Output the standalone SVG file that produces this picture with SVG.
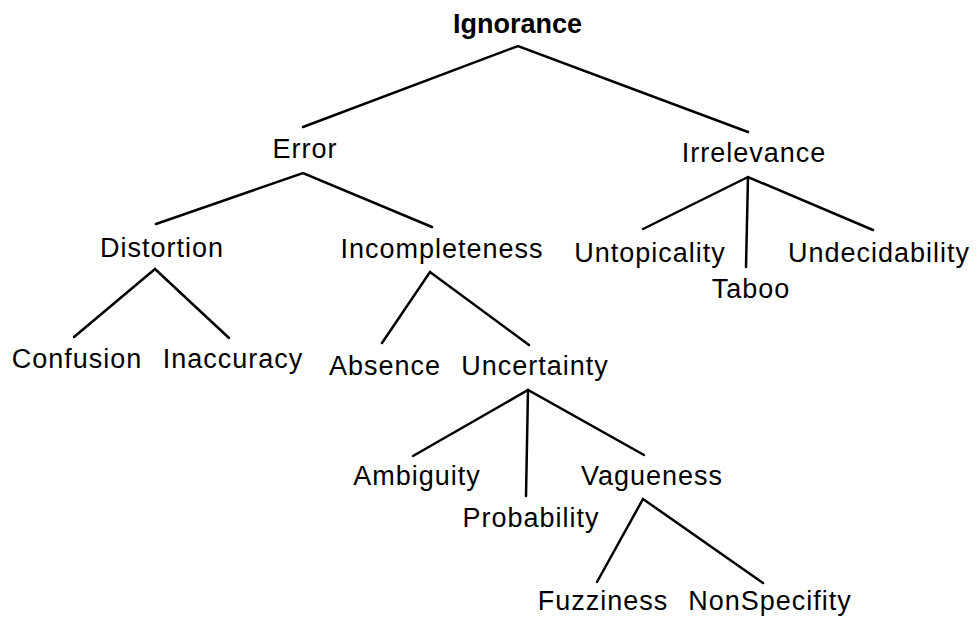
<svg xmlns="http://www.w3.org/2000/svg" width="978" height="621" viewBox="0 0 978 621">
<style>
  text { font-family: "Liberation Sans", Arial, sans-serif; font-size: 27px; fill: #000; text-anchor: middle; letter-spacing: 1px; }
  .root { font-weight: bold; letter-spacing: 0px; }
  .edge { stroke: #000; stroke-width: 2.5; fill: none; stroke-linecap: round; stroke-linejoin: miter; }
</style>
<rect x="0" y="0" width="978" height="621" fill="#fff"/>
<g id="connectors">
  <polyline class="edge" points="303,127 518,46 748,132"/>
  <polyline class="edge" points="156,224 303,173 432,227"/>
  <polyline class="edge" points="643,229 748,177 873,230"/>
  <line class="edge" x1="748" y1="177" x2="746" y2="267"/>
  <polyline class="edge" points="74,337 155,269 229,338"/>
  <polyline class="edge" points="382,343 430,272 529,345"/>
  <polyline class="edge" points="413,456 528,390 644,455"/>
  <line class="edge" x1="528" y1="390" x2="526" y2="496"/>
  <polyline class="edge" points="597,582 643,499 763,583"/>
</g>
<g id="n-ignorance"><text class="root" x="517.5" y="33">Ignorance</text></g>
<g id="n-error"><text x="305" y="158">Error</text></g>
<g id="n-irrelevance"><text x="754" y="162">Irrelevance</text></g>
<g id="n-distortion"><text x="162" y="257">Distortion</text></g>
<g id="n-incompleteness"><text x="442" y="258">Incompleteness</text></g>
<g id="n-untopicality"><text x="650" y="262">Untopicality</text></g>
<g id="n-taboo"><text x="751" y="298">Taboo</text></g>
<g id="n-undecidability"><text x="879" y="262">Undecidability</text></g>
<g id="n-confusion"><text x="77" y="368">Confusion</text></g>
<g id="n-inaccuracy"><text x="233" y="368">Inaccuracy</text></g>
<g id="n-absence"><text x="385" y="375">Absence</text></g>
<g id="n-uncertainty"><text x="535" y="375">Uncertainty</text></g>
<g id="n-ambiguity"><text x="417" y="485">Ambiguity</text></g>
<g id="n-probability"><text x="531" y="527">Probability</text></g>
<g id="n-vagueness"><text x="652" y="485">Vagueness</text></g>
<g id="n-fuzziness"><text x="603" y="610">Fuzziness</text></g>
<g id="n-nonspecifity"><text x="770" y="610">NonSpecifity</text></g>
</svg>
